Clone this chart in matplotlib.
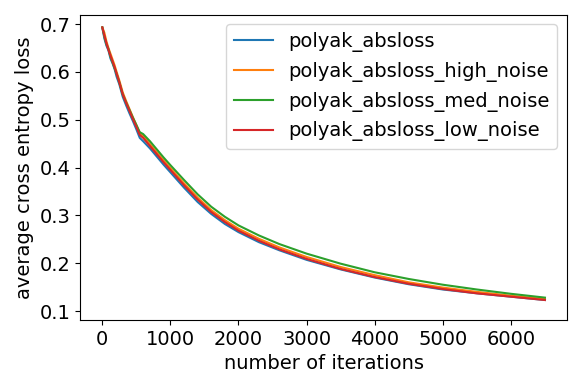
import numpy as np
from matplotlib import pyplot as plt

# values
iters = [0, 30, 60, 90, 120, 150, 180, 210, 250, 300, 350, 400, 450, 500,
         550, 600, 700, 800, 900, 1000, 1200, 1400, 1600, 1800, 2000, 2300,
         2600, 3000, 3500, 4000, 4500, 5000, 5500, 6000, 6500]

absloss = [0.693, 0.670, 0.655, 0.645, 0.628, 0.618, 0.606, 0.590, 0.574,
           0.548, 0.530, 0.513, 0.497, 0.480, 0.462, 0.455, 0.440, 0.423,
           0.406, 0.390, 0.358, 0.328, 0.303, 0.282, 0.265, 0.244, 0.227,
           0.207, 0.187, 0.170, 0.156, 0.145, 0.137, 0.130, 0.123]
high_noise = [0.693, 0.682, 0.664, 0.650, 0.638, 0.626, 0.614, 0.600, 0.582,
              0.557, 0.539, 0.522, 0.505, 0.489, 0.472, 0.466, 0.449, 0.432,
              0.415, 0.399, 0.367, 0.337, 0.311, 0.290, 0.272, 0.251, 0.233,
              0.213, 0.192, 0.175, 0.160, 0.149, 0.140, 0.132, 0.125]
med_noise = [0.693, 0.674, 0.658, 0.648, 0.632, 0.620, 0.608, 0.596, 0.578,
             0.553, 0.536, 0.520, 0.504, 0.489, 0.474, 0.470, 0.455, 0.438,
             0.421, 0.405, 0.374, 0.344, 0.318, 0.297, 0.279, 0.258, 0.240,
             0.220, 0.199, 0.181, 0.167, 0.155, 0.145, 0.136, 0.128]
low_noise = [0.693, 0.676, 0.660, 0.646, 0.634, 0.622, 0.610, 0.596, 0.578,
             0.553, 0.535, 0.518, 0.501, 0.485, 0.468, 0.462, 0.445, 0.428,
             0.411, 0.395, 0.363, 0.333, 0.307, 0.286, 0.268, 0.247, 0.229,
             0.209, 0.188, 0.171, 0.157, 0.146, 0.137, 0.130, 0.123]

names = ['polyak_absloss', 'polyak_absloss_high_noise',
         'polyak_absloss_med_noise', 'polyak_absloss_low_noise']

plt.rcParams['font.size'] = 14

fig = plt.figure(figsize=(5.81, 3.88), dpi=100)
ax = fig.add_axes([0.138, 0.175, 0.838, 0.787])

for y, name in zip([absloss, high_noise, med_noise, low_noise], names):
    ax.plot(iters, y, label=name, linewidth=1.5)

ax.set_xlim(-325, 6825)
ax.set_ylim(0.081, 0.7195)
ax.set_xticks(np.arange(0, 7000, 1000))
ax.set_yticks([0.1, 0.2, 0.3, 0.4, 0.5, 0.6, 0.7])
ax.set_xlabel('number of iterations')
ax.set_ylabel('average cross entropy loss')
ax.legend(loc='upper right')

fig.savefig('out.png', dpi=100)
